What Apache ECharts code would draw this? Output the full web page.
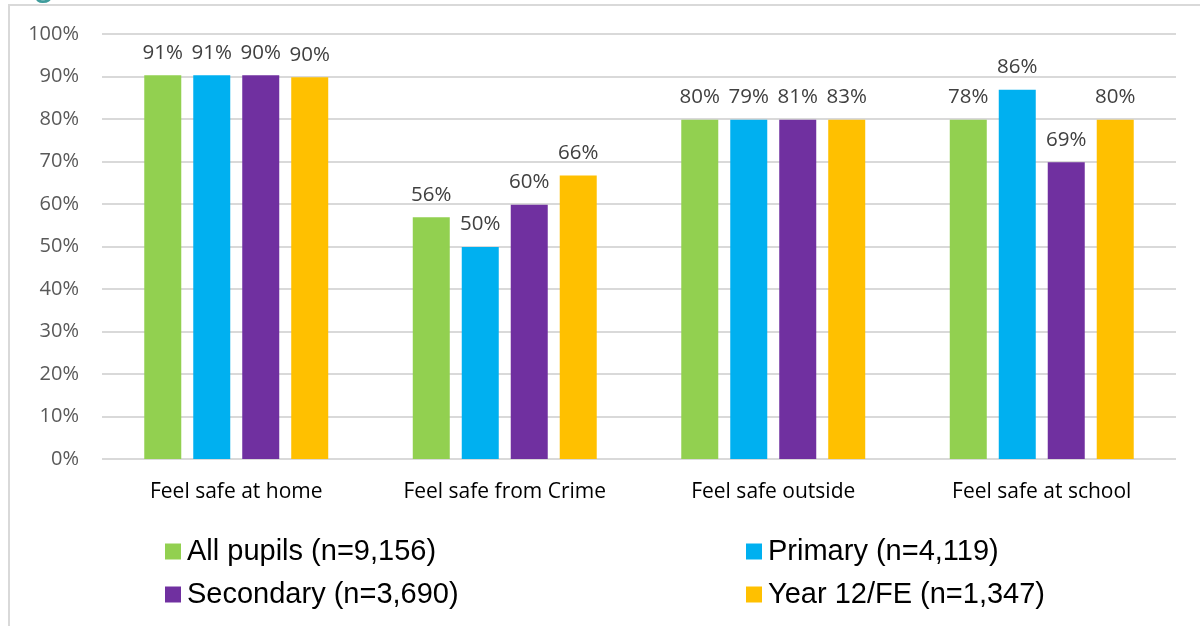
<!DOCTYPE html>
<html>
<head>
<meta charset="utf-8">
<script src="https://cdn.jsdelivr.net/npm/echarts@6/dist/echarts.min.js"></script>
<style>
html,body{margin:0;padding:0;background:#fff;}
#chart{width:1200px;height:626px;}
</style>
</head>
<body>
<div id="chart"></div>
<script>
const categories = ['Feel safe at home', 'Feel safe from Crime', 'Feel safe outside', 'Feel safe at school'];
const seriesNames = ['All pupils (n=9,156)', 'Primary (n=4,119)', 'Secondary (n=3,690)', 'Year 12/FE (n=1,347)'];
// bar heights
const allPupils = [90.3, 56.9, 79.8, 79.8];
const primary   = [90.3, 49.9, 79.8, 86.9];
const secondary = [90.3, 59.8, 79.8, 69.8];
const year12    = [89.8, 66.7, 79.8, 79.8];
// data label texts as printed
const allPupilsLabels = [91, 56, 80, 78];
const primaryLabels   = [91, 50, 79, 86];
const secondaryLabels = [90, 60, 81, 69];
const year12Labels    = [90, 66, 83, 80];
const yTicks = [0, 10, 20, 30, 40, 50, 60, 70, 80, 90, 100];

const colors = ['#92D050', '#00B0F0', '#7030A0', '#FFC000'];
const values = [allPupils, primary, secondary, year12];
const labels = [allPupilsLabels, primaryLabels, secondaryLabels, year12Labels];

const chart = echarts.init(document.getElementById('chart'), null, {renderer: 'canvas'});

const series = seriesNames.map((name, i) => ({
  name: name,
  type: 'bar',
  data: values[i],
  barWidth: 37,
  barGap: '32.4%',
  itemStyle: {color: colors[i]},
  label: {
    show: true,
    position: 'top',
    distance: 12,
    formatter: p => labels[i][p.dataIndex] + '%',
    color: '#404040',
    fontFamily: 'Open Sans',
    fontSize: 20.5
  }
}));

const legendCommon = {
  orient: 'vertical',
  top: 531,
  itemWidth: 16,
  itemHeight: 16,
  itemGap: 12,
  icon: 'rect',
  textStyle: {
    color: '#000',
    fontFamily: 'Liberation Sans',
    fontSize: 29,
    lineHeight: 31,
    padding: [0, 0, 0, 1]
  }
};

chart.setOption({
  animation: false,
  backgroundColor: '#fff',
  color: colors,
  grid: {left: 102, right: 24, top: 34, bottom: 167, containLabel: false},
  legend: [
    Object.assign({}, legendCommon, {left: 160, data: [seriesNames[0], seriesNames[2]]}),
    Object.assign({}, legendCommon, {left: 741, data: [seriesNames[1], seriesNames[3]]})
  ],
  xAxis: {
    type: 'category',
    data: categories,
    axisLine: {show: false},
    axisTick: {show: false},
    axisLabel: {
      color: '#000',
      fontFamily: 'Open Sans',
      fontSize: 21,
      margin: 23
    }
  },
  yAxis: {
    type: 'value',
    min: yTicks[0],
    max: yTicks[yTicks.length - 1],
    interval: yTicks[1] - yTicks[0],
    axisLine: {show: false},
    axisTick: {show: false},
    axisLabel: {
      formatter: '{value}%',
      color: '#595959',
      fontFamily: 'Open Sans',
      fontSize: 20,
      margin: 23
    },
    splitLine: {lineStyle: {color: '#d9d9d9', width: 2}}
  },
  graphic: [
    {
      type: 'rect',
      shape: {x: 9, y: 5, width: 1400, height: 800},
      style: {fill: 'none', stroke: '#d9d9d9', lineWidth: 2},
      silent: true
    },
    {
      type: 'text',
      left: 36,
      top: -26,
      style: {text: 'g', fill: '#3f9c9c', font: 'bold 28px "Open Sans"'},
      silent: true
    }
  ],
  series: series
});
</script>
</body>
</html>
